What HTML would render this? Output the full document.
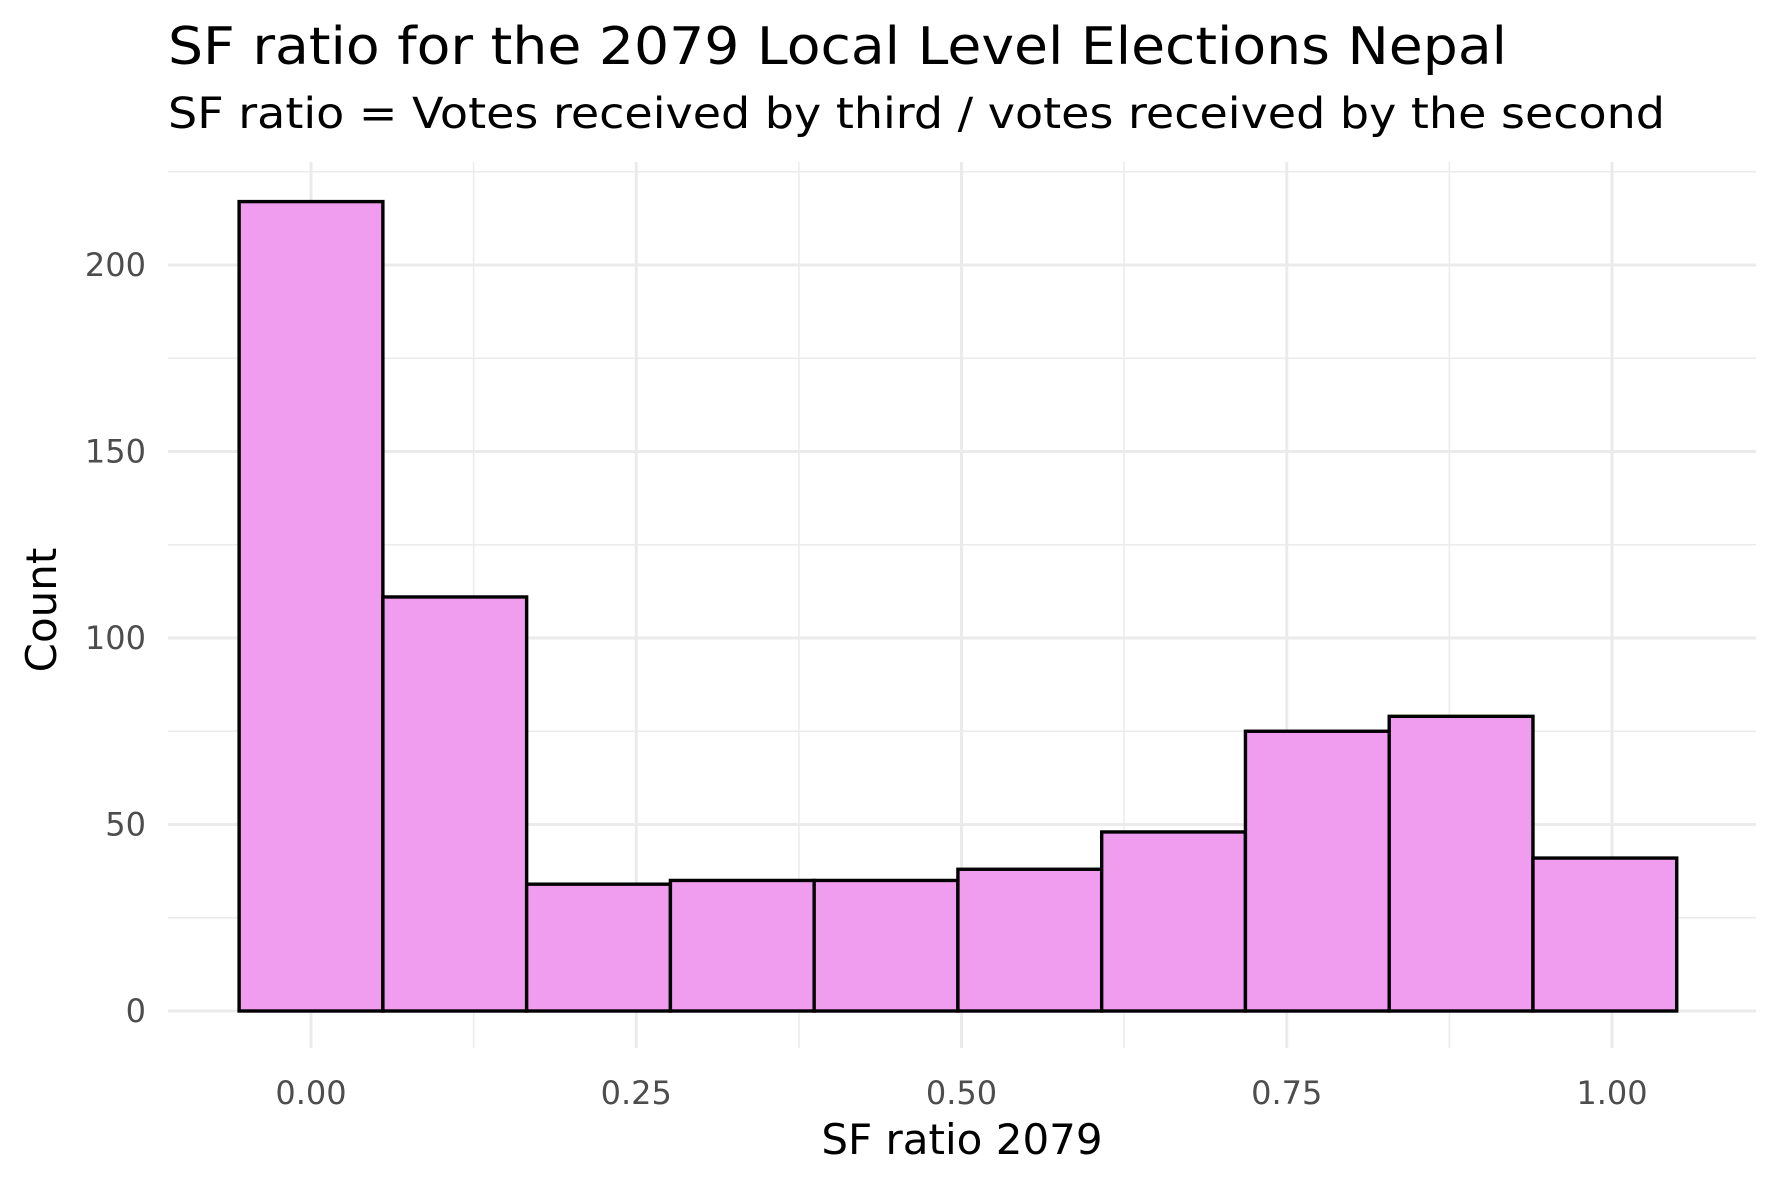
<!DOCTYPE html>
<html><head><meta charset="utf-8"><style>body{margin:0;background:#fff}svg{display:block}</style></head>
<body>
<svg id="chart" width="1771" height="1181" viewBox="0 0 1771 1181" xmlns="http://www.w3.org/2000/svg" font-family="'DejaVu Sans','Liberation Sans',sans-serif">
<rect width="1771" height="1181" fill="#fff"/>
<text x="168" y="64" font-size="52" fill="#000" textLength="1339" lengthAdjust="spacingAndGlyphs">SF ratio for the 2079 Local Level Elections Nepal</text>
<text x="168" y="128" font-size="43" fill="#000" textLength="1497" lengthAdjust="spacingAndGlyphs">SF ratio = Votes received by third / votes received by the second</text>
<g id="grid"></g>
<g id="bars"></g>
<g id="ticks"></g>
<text x="962" y="1154" font-size="42" text-anchor="middle" fill="#000">SF ratio 2079</text>
<text transform="translate(56,610) rotate(-90)" font-size="42" text-anchor="middle" fill="#000">Count</text>
</svg>
<script>
const binCenters = [0, 0.1105, 0.221, 0.3315, 0.442, 0.5525, 0.663, 0.7735, 0.884, 0.9945];
const counts = [217, 111, 34, 35, 35, 38, 48, 75, 79, 41];
const binWidth = 0.1105;
const xTicks = [0, 0.25, 0.5, 0.75, 1.0];
const xTickLabels = ["0.00", "0.25", "0.50", "0.75", "1.00"];
const yTicks = [0, 50, 100, 150, 200];
const yTickLabels = ["0", "50", "100", "150", "200"];

const NS = "http://www.w3.org/2000/svg";
const px0 = 168, px1 = 1756, py0 = 162, py1 = 1048;
const x = v => 311 + v * 1301;
const y = v => 1011 - v * (746 / 200);
function mk(tag, attrs, parent) {
  const e = document.createElementNS(NS, tag);
  for (const k in attrs) e.setAttribute(k, attrs[k]);
  document.getElementById(parent).appendChild(e);
  return e;
}
for (let v = 25; v <= 225; v += 50) {
  const l = mk("line", {x1: px0, x2: px1, y1: y(v), y2: y(v), stroke: "#ebebeb", "stroke-width": 1.5}, "grid");
  
  
}
for (let v = -0.125; v <= 1.2; v += 0.25) {
  if (x(v) < px0 || x(v) > px1) continue;
  const l = mk("line", {x1: x(v), x2: x(v), y1: py0, y2: py1, stroke: "#ebebeb", "stroke-width": 1.5}, "grid");
  
  
}
yTicks.forEach((t, i) => {
  const l = mk("line", {x1: px0, x2: px1, y1: y(t), y2: y(t), stroke: "#ebebeb", "stroke-width": 3}, "grid");
  
  
  const tx = mk("text", {x: 146, y: y(t) + 11, "font-size": 32, "text-anchor": "end", fill: "#4d4d4d"}, "ticks");
  tx.textContent = yTickLabels[i];
  
  
});
xTicks.forEach((t, i) => {
  const l = mk("line", {x1: x(t), x2: x(t), y1: py0, y2: py1, stroke: "#ebebeb", "stroke-width": 3}, "grid");
  
  
  const tx = mk("text", {x: x(t), y: 1104, "font-size": 32, "text-anchor": "middle", fill: "#4d4d4d"}, "ticks");
  tx.textContent = xTickLabels[i];
  
  
});
binCenters.forEach((c, i) => {
  const x0 = x(c - binWidth / 2), x1 = x(c + binWidth / 2);
  const r = mk("rect", {x: x0, y: y(counts[i]), width: x1 - x0, height: y(0) - y(counts[i]), fill: "#F09CEF", stroke: "#000", "stroke-width": 3.4}, "bars");
  
  
});
</script>
</body></html>
